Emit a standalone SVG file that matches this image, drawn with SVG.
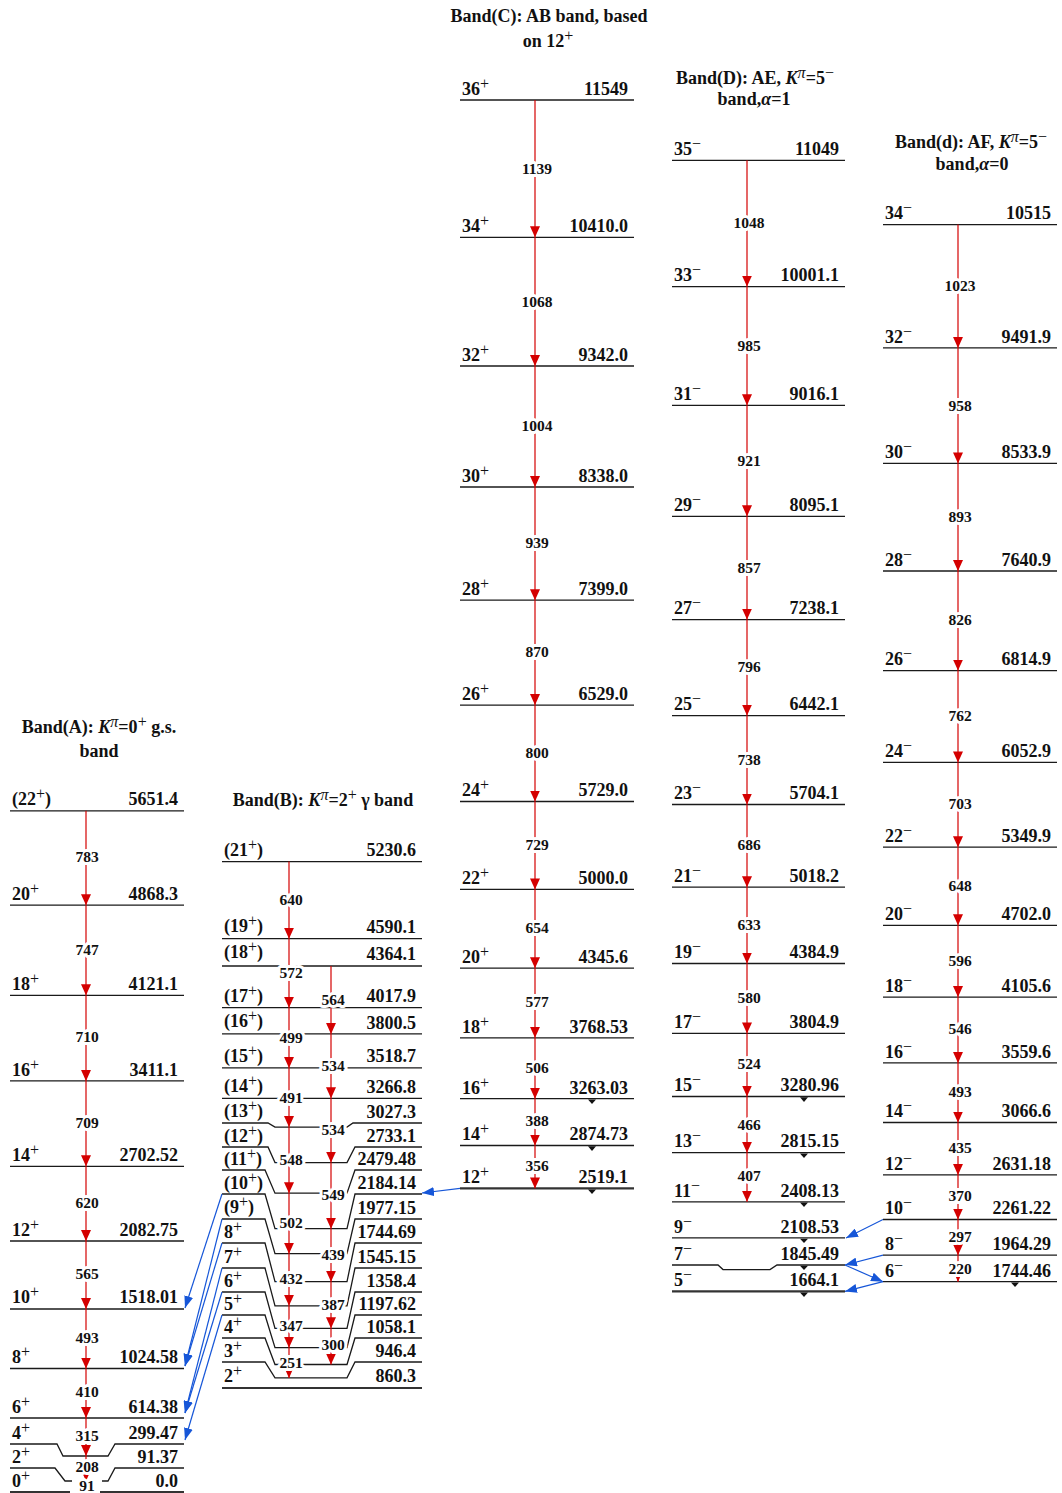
<svg xmlns="http://www.w3.org/2000/svg" width="1062" height="1493" viewBox="0 0 1062 1493">
<defs>
<style>
.lv{stroke:#1a1a1a;stroke-width:1.3;fill:none}
.base{stroke:#333;stroke-width:2.2;fill:none}
.t{stroke:#d40000;stroke-width:1.2;marker-end:url(#ar)}
.b{stroke:#1656d8;stroke-width:1.2;fill:none;marker-end:url(#ab)}
text{font-family:"Liberation Serif","Times New Roman",serif;font-weight:bold;fill:#111}
.s{font-size:18px}
.e{font-size:18px;text-anchor:end}
.p{font-size:16px;font-weight:normal}
.g{font-size:15.5px;text-anchor:middle;stroke:#fff;stroke-width:6;stroke-linejoin:round;paint-order:stroke}
.h{font-size:18px;text-anchor:middle}
.tri{fill:#111}
</style>
<marker id="ar" viewBox="0 0 11 10" refX="11" refY="5" markerWidth="11" markerHeight="10" markerUnits="userSpaceOnUse" orient="auto"><path d="M0,0L11,5L0,10z" fill="#d40000"/></marker>
<marker id="ab" viewBox="0 0 12 9" refX="12" refY="4.5" markerWidth="12" markerHeight="9" markerUnits="userSpaceOnUse" orient="auto"><path d="M0,0L12,4.5L0,9z" fill="#1656d8"/></marker>
</defs>
<rect width="1062" height="1493" fill="#fff"/>

<!-- Headings -->
<g id="headings">
<text class="h" x="99" y="733">Band(A): <tspan font-style="italic">K</tspan><tspan class="p" font-style="italic" dy="-6">π</tspan><tspan dy="6">=0</tspan><tspan class="p" dy="-6">+</tspan><tspan dy="6"> g.s.</tspan></text>
<text class="h" x="99" y="757">band</text>
<text class="h" x="323" y="806">Band(B): <tspan font-style="italic">K</tspan><tspan class="p" font-style="italic" dy="-6">π</tspan><tspan dy="6">=2</tspan><tspan class="p" dy="-6">+</tspan><tspan dy="6"> γ band</tspan></text>
<text class="h" x="549" y="22">Band(C): AB band, based</text>
<text class="h" x="548" y="47">on 12<tspan class="p" dy="-6">+</tspan></text>
<text class="h" x="755" y="84">Band(D): AE, <tspan font-style="italic">K</tspan><tspan class="p" font-style="italic" dy="-6">π</tspan><tspan dy="6">=5</tspan><tspan class="p" dy="-6">−</tspan></text>
<text class="h" x="754" y="105">band,<tspan font-style="italic">α</tspan>=1</text>
<text class="h" x="971" y="148">Band(d): AF, <tspan font-style="italic">K</tspan><tspan class="p" font-style="italic" dy="-6">π</tspan><tspan dy="6">=5</tspan><tspan class="p" dy="-6">−</tspan></text>
<text class="h" x="972" y="170">band,<tspan font-style="italic">α</tspan>=0</text>
</g>

<!-- Band A levels -->
<g id="bandA">
<g id="A22"><path class="lv" d="M10,810.8H184"/><text class="s" x="12" y="805">(22<tspan class="p" dy="-6">+</tspan><tspan dy="6">)</tspan></text><text class="e" x="178" y="805">5651.4</text></g>
<g id="A20"><path class="lv" d="M10,905.2H184"/><text class="s" x="12" y="900">20<tspan class="p" dy="-6">+</tspan></text><text class="e" x="178" y="900">4868.3</text></g>
<g id="A18"><path class="lv" d="M10,995.3H184"/><text class="s" x="12" y="990">18<tspan class="p" dy="-6">+</tspan></text><text class="e" x="178" y="990">4121.1</text></g>
<g id="A16"><path class="lv" d="M10,1080.9H184"/><text class="s" x="12" y="1076">16<tspan class="p" dy="-6">+</tspan></text><text class="e" x="178" y="1076">3411.1</text></g>
<g id="A14"><path class="lv" d="M10,1166.3H184"/><text class="s" x="12" y="1161">14<tspan class="p" dy="-6">+</tspan></text><text class="e" x="178" y="1161">2702.52</text></g>
<g id="A12"><path class="lv" d="M10,1241H184"/><text class="s" x="12" y="1236">12<tspan class="p" dy="-6">+</tspan></text><text class="e" x="178" y="1236">2082.75</text></g>
<g id="A10"><path class="lv" d="M10,1309H184"/><text class="s" x="12" y="1303">10<tspan class="p" dy="-6">+</tspan></text><text class="e" x="178" y="1303">1518.01</text></g>
<g id="A8"><path class="lv" d="M10,1368.5H184"/><text class="s" x="12" y="1363">8<tspan class="p" dy="-6">+</tspan></text><text class="e" x="178" y="1363">1024.58</text></g>
<g id="A6"><path class="lv" d="M10,1418H184"/><text class="s" x="12" y="1413">6<tspan class="p" dy="-6">+</tspan></text><text class="e" x="178" y="1413">614.38</text></g>
<g id="A4"><path class="lv" d="M10,1444H57L63,1456H108L115,1444H184"/><text class="s" x="12" y="1439">4<tspan class="p" dy="-6">+</tspan></text><text class="e" x="178" y="1439">299.47</text></g>
<g id="A2"><path class="lv" d="M10,1468H55L65,1481H72M102,1481H108L115,1468H184"/><text class="s" x="12" y="1463">2<tspan class="p" dy="-6">+</tspan></text><text class="e" x="178" y="1463">91.37</text></g>
<g id="A0"><path class="base" d="M10,1492H70M100,1492H184"/><text class="s" x="12" y="1487">0<tspan class="p" dy="-6">+</tspan></text><text class="e" x="178" y="1487">0.0</text></g>
</g>

<!-- Band B levels -->
<g id="bandB">
<g id="B21"><path class="lv" d="M222,861.6H422"/><text class="s" x="224" y="856">(21<tspan class="p" dy="-6">+</tspan><tspan dy="6">)</tspan></text><text class="e" x="416" y="856">5230.6</text></g>
<g id="B19"><path class="lv" d="M222,938.7H422"/><text class="s" x="224" y="932">(19<tspan class="p" dy="-6">+</tspan><tspan dy="6">)</tspan></text><text class="e" x="416" y="933">4590.1</text></g>
<g id="B18"><path class="lv" d="M222,966H422"/><text class="s" x="224" y="958">(18<tspan class="p" dy="-6">+</tspan><tspan dy="6">)</tspan></text><text class="e" x="416" y="960">4364.1</text></g>
<g id="B17"><path class="lv" d="M222,1007.7H422"/><text class="s" x="224" y="1002">(17<tspan class="p" dy="-6">+</tspan><tspan dy="6">)</tspan></text><text class="e" x="416" y="1002">4017.9</text></g>
<g id="B16"><path class="lv" d="M222,1033.9H422"/><text class="s" x="224" y="1027">(16<tspan class="p" dy="-6">+</tspan><tspan dy="6">)</tspan></text><text class="e" x="416" y="1029">3800.5</text></g>
<g id="B15"><path class="lv" d="M222,1067.9H422"/><text class="s" x="224" y="1062">(15<tspan class="p" dy="-6">+</tspan><tspan dy="6">)</tspan></text><text class="e" x="416" y="1062">3518.7</text></g>
<g id="B14"><path class="lv" d="M222,1098.3H422"/><text class="s" x="224" y="1092">(14<tspan class="p" dy="-6">+</tspan><tspan dy="6">)</tspan></text><text class="e" x="416" y="1093">3266.8</text></g>
<g id="B13"><path class="lv" d="M222,1123H268L275,1127.1H347L353,1123H422"/><text class="s" x="224" y="1117">(13<tspan class="p" dy="-6">+</tspan><tspan dy="6">)</tspan></text><text class="e" x="416" y="1118">3027.3</text></g>
<g id="B12"><path class="lv" d="M222,1147H268L275,1162.6H347L355,1147H422"/><text class="s" x="224" y="1142">(12<tspan class="p" dy="-6">+</tspan><tspan dy="6">)</tspan></text><text class="e" x="416" y="1142">2733.1</text></g>
<g id="B11"><path class="lv" d="M222,1170H265L275,1193.2H347L355,1170H422"/><text class="s" x="224" y="1165">(11<tspan class="p" dy="-6">+</tspan><tspan dy="6">)</tspan></text><text class="e" x="416" y="1165">2479.48</text></g>
<g id="B10"><path class="lv" d="M222,1194H265L275,1228.7H347L355,1194H422"/><text class="s" x="224" y="1189">(10<tspan class="p" dy="-6">+</tspan><tspan dy="6">)</tspan></text><text class="e" x="416" y="1189">2184.14</text></g>
<g id="B9"><path class="lv" d="M222,1219H265L275,1253.7H347L355,1219H422"/><text class="s" x="224" y="1213">(9<tspan class="p" dy="-6">+</tspan><tspan dy="6">)</tspan></text><text class="e" x="416" y="1214">1977.15</text></g>
<g id="B8"><path class="lv" d="M222,1243H265L275,1281.7H347L355,1243H422"/><text class="s" x="224" y="1238">8<tspan class="p" dy="-6">+</tspan></text><text class="e" x="416" y="1238">1744.69</text></g>
<g id="B7"><path class="lv" d="M222,1268H265L275,1305.8H347L355,1268H422"/><text class="s" x="224" y="1263">7<tspan class="p" dy="-6">+</tspan></text><text class="e" x="416" y="1263">1545.15</text></g>
<g id="B6"><path class="lv" d="M222,1292H265L275,1328.3H347L355,1292H422"/><text class="s" x="224" y="1287">6<tspan class="p" dy="-6">+</tspan></text><text class="e" x="416" y="1287">1358.4</text></g>
<g id="B5"><path class="lv" d="M222,1315H265L275,1347.7H347L355,1315H422"/><text class="s" x="224" y="1310">5<tspan class="p" dy="-6">+</tspan></text><text class="e" x="416" y="1310">1197.62</text></g>
<g id="B4"><path class="lv" d="M222,1338H265L275,1364.5H347L355,1338H422"/><text class="s" x="224" y="1333">4<tspan class="p" dy="-6">+</tspan></text><text class="e" x="416" y="1333">1058.1</text></g>
<g id="B3"><path class="lv" d="M222,1362H265L275,1377.9H347L355,1362H422"/><text class="s" x="224" y="1357">3<tspan class="p" dy="-6">+</tspan></text><text class="e" x="416" y="1357">946.4</text></g>
<g id="B2"><path class="base" d="M222,1388H422"/><text class="s" x="224" y="1382">2<tspan class="p" dy="-6">+</tspan></text><text class="e" x="416" y="1382">860.3</text></g>
</g>

<!-- Band C levels -->
<g id="bandC">
<g id="C36"><path class="lv" d="M460,100H634"/><text class="s" x="462" y="95">36<tspan class="p" dy="-6">+</tspan></text><text class="e" x="628" y="95">11549</text></g>
<g id="C34"><path class="lv" d="M460,237.3H634"/><text class="s" x="462" y="232">34<tspan class="p" dy="-6">+</tspan></text><text class="e" x="628" y="232">10410.0</text></g>
<g id="C32"><path class="lv" d="M460,366H634"/><text class="s" x="462" y="361">32<tspan class="p" dy="-6">+</tspan></text><text class="e" x="628" y="361">9342.0</text></g>
<g id="C30"><path class="lv" d="M460,487H634"/><text class="s" x="462" y="482">30<tspan class="p" dy="-6">+</tspan></text><text class="e" x="628" y="482">8338.0</text></g>
<g id="C28"><path class="lv" d="M460,600.2H634"/><text class="s" x="462" y="595">28<tspan class="p" dy="-6">+</tspan></text><text class="e" x="628" y="595">7399.0</text></g>
<g id="C26"><path class="lv" d="M460,705.1H634"/><text class="s" x="462" y="700">26<tspan class="p" dy="-6">+</tspan></text><text class="e" x="628" y="700">6529.0</text></g>
<g id="C24"><path class="lv" d="M460,801.5H634"/><text class="s" x="462" y="796">24<tspan class="p" dy="-6">+</tspan></text><text class="e" x="628" y="796">5729.0</text></g>
<g id="C22"><path class="lv" d="M460,889.4H634"/><text class="s" x="462" y="884">22<tspan class="p" dy="-6">+</tspan></text><text class="e" x="628" y="884">5000.0</text></g>
<g id="C20"><path class="lv" d="M460,968.2H634"/><text class="s" x="462" y="963">20<tspan class="p" dy="-6">+</tspan></text><text class="e" x="628" y="963">4345.6</text></g>
<g id="C18"><path class="lv" d="M460,1037.8H634"/><text class="s" x="462" y="1033">18<tspan class="p" dy="-6">+</tspan></text><text class="e" x="628" y="1033">3768.53</text></g>
<g id="C16"><path class="lv" d="M460,1098.7H634"/><polygon class="tri" points="588,1099.5 596,1099.5 592,1104"/><text class="s" x="462" y="1094">16<tspan class="p" dy="-6">+</tspan></text><text class="e" x="628" y="1094">3263.03</text></g>
<g id="C14"><path class="lv" d="M460,1145.5H634"/><polygon class="tri" points="588,1146.3 596,1146.3 592,1151"/><text class="s" x="462" y="1140">14<tspan class="p" dy="-6">+</tspan></text><text class="e" x="628" y="1140">2874.73</text></g>
<g id="C12"><path class="base" d="M460,1188.4H634"/><polygon class="tri" points="588,1189.5 596,1189.5 592,1194"/><text class="s" x="462" y="1183">12<tspan class="p" dy="-6">+</tspan></text><text class="e" x="628" y="1183">2519.1</text></g>
</g>

<!-- Band D levels -->
<g id="bandD">
<g id="D35"><path class="lv" d="M672,160.3H845"/><text class="s" x="674" y="155">35<tspan class="p" dy="-6">−</tspan></text><text class="e" x="839" y="155">11049</text></g>
<g id="D33"><path class="lv" d="M672,286.6H845"/><text class="s" x="674" y="281">33<tspan class="p" dy="-6">−</tspan></text><text class="e" x="839" y="281">10001.1</text></g>
<g id="D31"><path class="lv" d="M672,405.3H845"/><text class="s" x="674" y="400">31<tspan class="p" dy="-6">−</tspan></text><text class="e" x="839" y="400">9016.1</text></g>
<g id="D29"><path class="lv" d="M672,516.3H845"/><text class="s" x="674" y="511">29<tspan class="p" dy="-6">−</tspan></text><text class="e" x="839" y="511">8095.1</text></g>
<g id="D27"><path class="lv" d="M672,619.6H845"/><text class="s" x="674" y="614">27<tspan class="p" dy="-6">−</tspan></text><text class="e" x="839" y="614">7238.1</text></g>
<g id="D25"><path class="lv" d="M672,715.6H845"/><text class="s" x="674" y="710">25<tspan class="p" dy="-6">−</tspan></text><text class="e" x="839" y="710">6442.1</text></g>
<g id="D23"><path class="lv" d="M672,804.5H845"/><text class="s" x="674" y="799">23<tspan class="p" dy="-6">−</tspan></text><text class="e" x="839" y="799">5704.1</text></g>
<g id="D21"><path class="lv" d="M672,887.2H845"/><text class="s" x="674" y="882">21<tspan class="p" dy="-6">−</tspan></text><text class="e" x="839" y="882">5018.2</text></g>
<g id="D19"><path class="lv" d="M672,963.5H845"/><text class="s" x="674" y="958">19<tspan class="p" dy="-6">−</tspan></text><text class="e" x="839" y="958">4384.9</text></g>
<g id="D17"><path class="lv" d="M672,1033.4H845"/><text class="s" x="674" y="1028">17<tspan class="p" dy="-6">−</tspan></text><text class="e" x="839" y="1028">3804.9</text></g>
<g id="D15"><path class="lv" d="M672,1096.5H845"/><polygon class="tri" points="800,1097.3 808,1097.3 804,1102"/><text class="s" x="674" y="1091">15<tspan class="p" dy="-6">−</tspan></text><text class="e" x="839" y="1091">3280.96</text></g>
<g id="D13"><path class="lv" d="M672,1152.7H845"/><polygon class="tri" points="800,1153.5 808,1153.5 804,1158"/><text class="s" x="674" y="1147">13<tspan class="p" dy="-6">−</tspan></text><text class="e" x="839" y="1147">2815.15</text></g>
<g id="D11"><path class="lv" d="M672,1201.8H845"/><polygon class="tri" points="800,1202.6 808,1202.6 804,1207"/><text class="s" x="674" y="1197">11<tspan class="p" dy="-6">−</tspan></text><text class="e" x="839" y="1197">2408.13</text></g>
<g id="D9"><path class="lv" d="M672,1237.9H845"/><polygon class="tri" points="800,1238.7 808,1238.7 804,1243"/><text class="s" x="674" y="1233">9<tspan class="p" dy="-6">−</tspan></text><text class="e" x="839" y="1233">2108.53</text></g>
<g id="D7"><path class="lv" d="M672,1265H718L723,1269.6H770L777,1265H845"/><polygon class="tri" points="800,1265.8 808,1265.8 804,1270"/><text class="s" x="674" y="1260">7<tspan class="p" dy="-6">−</tspan></text><text class="e" x="839" y="1260">1845.49</text></g>
<g id="D5"><path class="base" d="M672,1291.4H845"/><polygon class="tri" points="800,1292.5 808,1292.5 804,1297"/><text class="s" x="674" y="1286">5<tspan class="p" dy="-6">−</tspan></text><text class="e" x="839" y="1286">1664.1</text></g>
</g>

<!-- Band d levels -->
<g id="bandd">
<g id="d34"><path class="lv" d="M883,224.6H1057"/><text class="s" x="885" y="219">34<tspan class="p" dy="-6">−</tspan></text><text class="e" x="1051" y="219">10515</text></g>
<g id="d32"><path class="lv" d="M883,347.9H1057"/><text class="s" x="885" y="343">32<tspan class="p" dy="-6">−</tspan></text><text class="e" x="1051" y="343">9491.9</text></g>
<g id="d30"><path class="lv" d="M883,463.4H1057"/><text class="s" x="885" y="458">30<tspan class="p" dy="-6">−</tspan></text><text class="e" x="1051" y="458">8533.9</text></g>
<g id="d28"><path class="lv" d="M883,571H1057"/><text class="s" x="885" y="566">28<tspan class="p" dy="-6">−</tspan></text><text class="e" x="1051" y="566">7640.9</text></g>
<g id="d26"><path class="lv" d="M883,670.6H1057"/><text class="s" x="885" y="665">26<tspan class="p" dy="-6">−</tspan></text><text class="e" x="1051" y="665">6814.9</text></g>
<g id="d24"><path class="lv" d="M883,762.4H1057"/><text class="s" x="885" y="757">24<tspan class="p" dy="-6">−</tspan></text><text class="e" x="1051" y="757">6052.9</text></g>
<g id="d22"><path class="lv" d="M883,847.2H1057"/><text class="s" x="885" y="842">22<tspan class="p" dy="-6">−</tspan></text><text class="e" x="1051" y="842">5349.9</text></g>
<g id="d20"><path class="lv" d="M883,925.3H1057"/><text class="s" x="885" y="920">20<tspan class="p" dy="-6">−</tspan></text><text class="e" x="1051" y="920">4702.0</text></g>
<g id="d18"><path class="lv" d="M883,997.1H1057"/><text class="s" x="885" y="992">18<tspan class="p" dy="-6">−</tspan></text><text class="e" x="1051" y="992">4105.6</text></g>
<g id="d16"><path class="lv" d="M883,1062.9H1057"/><text class="s" x="885" y="1058">16<tspan class="p" dy="-6">−</tspan></text><text class="e" x="1051" y="1058">3559.6</text></g>
<g id="d14"><path class="lv" d="M883,1122.5H1057"/><text class="s" x="885" y="1117">14<tspan class="p" dy="-6">−</tspan></text><text class="e" x="1051" y="1117">3066.6</text></g>
<g id="d12"><path class="lv" d="M883,1174.9H1057"/><text class="s" x="885" y="1170">12<tspan class="p" dy="-6">−</tspan></text><text class="e" x="1051" y="1170">2631.18</text></g>
<g id="d10"><path class="lv" d="M883,1219.5H1057"/><text class="s" x="885" y="1214">10<tspan class="p" dy="-6">−</tspan></text><text class="e" x="1051" y="1214">2261.22</text></g>
<g id="d8"><path class="lv" d="M883,1255.2H1057" stroke-width="1.8"/><text class="s" x="885" y="1250">8<tspan class="p" dy="-6">−</tspan></text><text class="e" x="1051" y="1250">1964.29</text></g>
<g id="d6"><path class="lv" d="M883,1281.7H1057"/><polygon class="tri" points="1011,1282.5 1019,1282.5 1015,1287"/><text class="s" x="885" y="1277">6<tspan class="p" dy="-6">−</tspan></text><text class="e" x="1051" y="1277">1744.46</text></g>
</g>

<!-- Connectors -->
<g id="connectors">
<path class="t" d="M86,810.8V905.2"/><path class="t" d="M86,905.2V995.3"/><path class="t" d="M86,995.3V1080.9"/><path class="t" d="M86,1080.9V1166.3"/><path class="t" d="M86,1166.3V1241"/><path class="t" d="M86,1241V1309"/><path class="t" d="M86,1309V1368.5"/><path class="t" d="M86,1368.5V1418"/><path class="t" d="M86,1418V1456"/><path class="t" d="M86,1456V1481"/><path class="t" d="M86,1481V1492"/>
<path class="t" d="M289,861.6V938.7"/><path class="t" d="M289,938.7V1007.7"/><path class="t" d="M289,1007.7V1067.9"/><path class="t" d="M289,1067.9V1127.1"/><path class="t" d="M289,1127.1V1193.2"/><path class="t" d="M289,1193.2V1253.7"/><path class="t" d="M289,1253.7V1305.8"/><path class="t" d="M289,1305.8V1347.7"/><path class="t" d="M289,1347.7V1377.9"/>
<path class="t" d="M331,966V1033.9"/><path class="t" d="M331,1033.9V1098.3"/><path class="t" d="M331,1098.3V1162.6"/><path class="t" d="M331,1162.6V1228.7"/><path class="t" d="M331,1228.7V1281.7"/><path class="t" d="M331,1281.7V1328.3"/><path class="t" d="M331,1328.3V1364.5"/>
<path class="t" d="M535,100V237.3"/><path class="t" d="M535,237.3V366"/><path class="t" d="M535,366V487"/><path class="t" d="M535,487V600.2"/><path class="t" d="M535,600.2V705.1"/><path class="t" d="M535,705.1V801.5"/><path class="t" d="M535,801.5V889.4"/><path class="t" d="M535,889.4V968.2"/><path class="t" d="M535,968.2V1037.8"/><path class="t" d="M535,1037.8V1098.7"/><path class="t" d="M535,1098.7V1145.5"/><path class="t" d="M535,1145.5V1188.4"/>
<path class="t" d="M747,160.3V286.6"/><path class="t" d="M747,286.6V405.3"/><path class="t" d="M747,405.3V516.3"/><path class="t" d="M747,516.3V619.6"/><path class="t" d="M747,619.6V715.6"/><path class="t" d="M747,715.6V804.5"/><path class="t" d="M747,804.5V887.2"/><path class="t" d="M747,887.2V963.5"/><path class="t" d="M747,963.5V1033.4"/><path class="t" d="M747,1033.4V1096.5"/><path class="t" d="M747,1096.5V1152.7"/><path class="t" d="M747,1152.7V1201.8"/>
<path class="t" d="M958,224.6V347.9"/><path class="t" d="M958,347.9V463.4"/><path class="t" d="M958,463.4V571"/><path class="t" d="M958,571V670.6"/><path class="t" d="M958,670.6V762.4"/><path class="t" d="M958,762.4V847.2"/><path class="t" d="M958,847.2V925.3"/><path class="t" d="M958,925.3V997.1"/><path class="t" d="M958,997.1V1062.9"/><path class="t" d="M958,1062.9V1122.5"/><path class="t" d="M958,1122.5V1174.9"/><path class="t" d="M958,1174.9V1219.5"/><path class="t" d="M958,1219.5V1255.2"/><path class="t" d="M958,1255.2V1281.7"/>
<path class="b" d="M222,1194L185,1308"/>
<path class="b" d="M222,1219L185,1366"/>
<path class="b" d="M222,1243L185,1366"/>
<path class="b" d="M222,1268L185,1413"/>
<path class="b" d="M222,1292L185,1413"/>
<path class="b" d="M222,1315L185,1440"/>
<path class="b" d="M460,1188.4L422,1193"/>
<path class="b" d="M883,1219.5L846,1238"/>
<path class="b" d="M883,1255.2L845,1265"/>
<path class="b" d="M845,1265L883,1281.7"/>
<path class="b" d="M883,1281.7L845,1291.4"/>
<g id="labels">
<text class="g" x="87" y="862">783</text><text class="g" x="87" y="955">747</text><text class="g" x="87" y="1042">710</text><text class="g" x="87" y="1128">709</text><text class="g" x="87" y="1208">620</text><text class="g" x="87" y="1279">565</text><text class="g" x="87" y="1343">493</text><text class="g" x="87" y="1397">410</text><text class="g" x="87" y="1441">315</text><text class="g" x="87" y="1472">208</text><text class="g" x="87" y="1491">91</text>
<text class="g" x="291" y="905">640</text><text class="g" x="291" y="978">572</text><text class="g" x="291" y="1043">499</text><text class="g" x="291" y="1103">491</text><text class="g" x="291" y="1165">548</text><text class="g" x="291" y="1228">502</text><text class="g" x="291" y="1284">432</text><text class="g" x="291" y="1331">347</text><text class="g" x="291" y="1368">251</text>
<text class="g" x="333" y="1005">564</text><text class="g" x="333" y="1071">534</text><text class="g" x="333" y="1135">534</text><text class="g" x="333" y="1200">549</text><text class="g" x="333" y="1260">439</text><text class="g" x="333" y="1310">387</text><text class="g" x="333" y="1350">300</text>
<text class="g" x="537" y="174">1139</text><text class="g" x="537" y="307">1068</text><text class="g" x="537" y="431">1004</text><text class="g" x="537" y="548">939</text><text class="g" x="537" y="657">870</text><text class="g" x="537" y="758">800</text><text class="g" x="537" y="850">729</text><text class="g" x="537" y="933">654</text><text class="g" x="537" y="1007">577</text><text class="g" x="537" y="1073">506</text><text class="g" x="537" y="1126">388</text><text class="g" x="537" y="1171">356</text>
<text class="g" x="749" y="228">1048</text><text class="g" x="749" y="351">985</text><text class="g" x="749" y="466">921</text><text class="g" x="749" y="573">857</text><text class="g" x="749" y="672">796</text><text class="g" x="749" y="765">738</text><text class="g" x="749" y="850">686</text><text class="g" x="749" y="930">633</text><text class="g" x="749" y="1003">580</text><text class="g" x="749" y="1069">524</text><text class="g" x="749" y="1130">466</text><text class="g" x="749" y="1181">407</text>
<text class="g" x="960" y="291">1023</text><text class="g" x="960" y="411">958</text><text class="g" x="960" y="522">893</text><text class="g" x="960" y="625">826</text><text class="g" x="960" y="721">762</text><text class="g" x="960" y="809">703</text><text class="g" x="960" y="891">648</text><text class="g" x="960" y="966">596</text><text class="g" x="960" y="1034">546</text><text class="g" x="960" y="1097">493</text><text class="g" x="960" y="1153">435</text><text class="g" x="960" y="1201">370</text><text class="g" x="960" y="1242">297</text><text class="g" x="960" y="1274">220</text>
</g>
</g>
</svg>
